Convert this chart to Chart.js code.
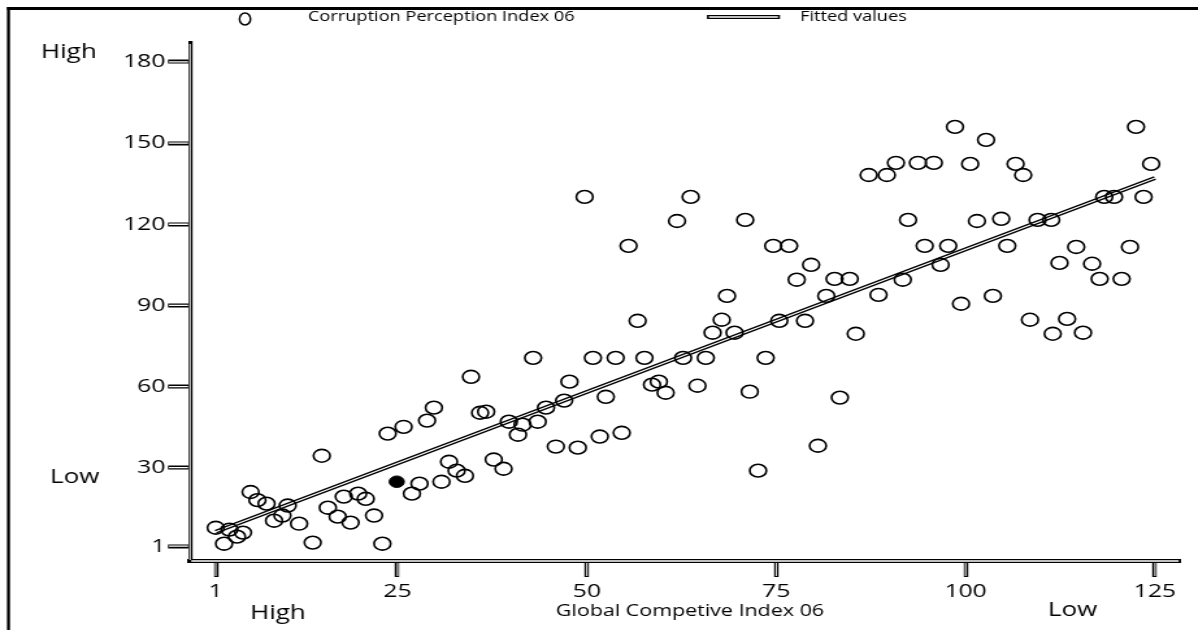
<!DOCTYPE html>
<html>
<head>
<meta charset="utf-8">
<script src="https://cdn.jsdelivr.net/npm/chart.js@4.4.1/dist/chart.umd.min.js"></script>
<style>
body { margin: 0; background: #fff; overflow: hidden; }
/* the original figure is stretched sideways, so draw narrow and widen it */
#wrap { position: absolute; left: 0; top: 0; width: 922px; height: 630px; transform: scaleX(1.2993); transform-origin: 0 0; }
</style>
</head>
<body>
<div id="wrap"><canvas id="myCanvas" width="922" height="630"></canvas></div>
<script>
// Global Competitiveness Index 06 rank (x) vs Corruption Perception Index 06 rank (y)
var gciRank = [1, 2.1, 2.8, 3.8, 4.6, 5.6, 6.5, 7.7, 8.7, 9.8, 10.5, 12, 13.8, 15, 15.8, 17.1, 17.9, 18.8, 19.8, 20.8,
  21.9, 23, 23.7, 25.8, 26.9, 27.9, 28.9, 29.8, 30.8, 31.8, 32.8, 33.9, 34.7, 35.9, 36.7, 37.7, 39, 39.7, 40.9, 41.5,
  42.9, 43.5, 44.6, 45.9, 47, 47.7, 48.8, 49.7, 50.8, 51.7, 52.5, 53.8, 54.6, 55.5, 56.7, 57.6, 58.6, 59.5, 60.4, 61.9,
  62.7, 63.7, 64.6, 65.7, 66.6, 67.8, 68.5, 69.5, 70.9, 71.5, 72.6, 73.6, 74.6, 75.4, 76.7, 77.7, 78.8, 79.6, 80.5, 81.6,
  82.7, 83.4, 84.7, 85.5, 87.2, 88.5, 89.6, 90.8, 91.7, 92.4, 93.7, 94.6, 95.8, 96.7, 97.7, 98.6, 99.4, 100.6, 101.5, 102.7,
  103.6, 104.7, 105.5, 106.6, 107.6, 108.5, 109.5, 111.3, 111.5, 112.4, 113.4, 114.6, 115.5, 116.7, 117.7, 118.3, 119.6, 120.6, 121.7, 122.5,
  123.5, 124.5];
var cpiRank = [7.8, 1.9, 7.1, 4.5, 6, 21, 18, 16.7, 10.4, 12.3, 16, 9.3, 2.3, 34.4, 15.2, 11.9, 19.3, 9.7, 20.4, 18.5,
  12.3, 1.9, 42.6, 45.1, 20.4, 24.1, 47.4, 52.2, 24.8, 32.2, 28.9, 27, 63.6, 50.3, 50.7, 33, 29.6, 47, 42.2, 45.9,
  70.6, 47, 52.2, 37.8, 54.8, 61.8, 37.4, 130.1, 70.6, 41.5, 56.2, 70.6, 42.9, 112, 84.3, 70.6, 60.7, 61.8, 57.7, 121.2,
  70.6, 130.1, 60.3, 70.6, 79.9, 84.7, 93.5, 79.9, 121.6, 58.1, 28.9, 70.6, 112, 84.3, 112, 99.5, 84.3, 105, 38.1, 93.5,
  99.8, 55.9, 99.8, 79.5, 138.2, 93.9, 138.2, 142.7, 99.5, 121.6, 142.7, 112, 142.7, 105, 112, 156, 90.6, 142.3, 121.2, 151.2,
  93.5, 122, 112, 142.3, 138.2, 84.7, 121.6, 121.6, 79.5, 105.7, 85, 111.6, 79.9, 105.4, 99.8, 130.1, 130.1, 99.8, 111.6, 156,
  130.1, 142.3];
// highlighted country (filled marker)
var markedX = [24.9];
var markedY = [24.8];
// fitted regression line end points
var fitX = [1, 125];
var fitY = [6.3, 137.1];
var xTicks = [1, 25, 50, 75, 100, 125];
var yTicks = [1, 30, 60, 90, 120, 150, 180];

var FONT = "'Open Sans', sans-serif";
var S = 1198 / 922;

// page x -> canvas x
function P(x) { return x / S; }

function toPoints(xs, ys) {
  return xs.map(function (x, i) { return { x: x, y: ys[i] }; });
}

var decorations = {
  id: "decorations",
  afterDraw: function (chart) {
    var ctx = chart.ctx;
    var area = chart.chartArea;
    var xs = chart.scales.x, ys = chart.scales.y;
    ctx.save();

    // white core on axes and ticks -> double lines
    ctx.strokeStyle = "#fff";
    ctx.lineWidth = 1;
    ctx.beginPath();
    ctx.moveTo(area.left, area.top + 1);
    ctx.lineTo(area.left, area.bottom - 1);
    xTicks.forEach(function (v) {
      var px = xs.getPixelForValue(v);
      ctx.moveTo(px, area.bottom + 2);
      ctx.lineTo(px, area.bottom + 15);
    });
    ctx.stroke();
    ctx.lineWidth = 1.3;
    ctx.beginPath();
    ctx.moveTo(area.left + 1, area.bottom);
    ctx.lineTo(area.right - 1, area.bottom);
    yTicks.forEach(function (v) {
      var py = ys.getPixelForValue(v);
      ctx.moveTo(area.left - P(21), py);
      ctx.lineTo(area.left - 1.5, py);
    });
    ctx.stroke();

    // legend
    ctx.fillStyle = "#000";
    ctx.strokeStyle = "#000";
    ctx.font = "500 14px " + FONT;
    ctx.textBaseline = "middle";
    ctx.textAlign = "left";
    ctx.lineWidth = 1.4;
    ctx.beginPath();
    ctx.ellipse(P(245), 19, P(5.5), 6, 0, 0, Math.PI * 2);
    ctx.stroke();
    ctx.fillText("Corruption Perception Index 06", P(308), 17);
    ctx.lineWidth = 4;
    ctx.beginPath();
    ctx.moveTo(P(707), 17);
    ctx.lineTo(P(780), 17);
    ctx.stroke();
    ctx.strokeStyle = "#fff";
    ctx.lineWidth = 1.3;
    ctx.beginPath();
    ctx.moveTo(P(709), 17);
    ctx.lineTo(P(778), 17);
    ctx.stroke();
    ctx.fillText("Fitted values", P(800), 17);

    // axis end labels and title
    ctx.font = "500 20px " + FONT;
    ctx.fillText("High", P(41), 52);
    ctx.fillText("Low", P(50), 477);
    ctx.fillText("High", P(250), 613);
    ctx.fillText("Low", P(1048), 610);
    ctx.font = "500 16.5px " + FONT;
    ctx.textAlign = "center";
    ctx.fillText("Global Competive Index 06", P(690), 611);

    // page frame (top and left)
    ctx.fillRect(P(7), 7, P(1198), 3);
    ctx.fillRect(P(7), 7, P(3), 623);
    ctx.restore();
  }
};

var myChart = new Chart(document.getElementById("myCanvas"), {
  type: "scatter",
  data: {
    datasets: [
      {
        label: "Fitted values",
        type: "line",
        data: toPoints(fitX, fitY),
        borderColor: "#000",
        borderWidth: 4,
        pointRadius: 0,
        order: 2
      },
      {
        label: "fit core",
        type: "line",
        data: toPoints(fitX, fitY),
        borderColor: "#fff",
        borderWidth: 1.3,
        pointRadius: 0,
        order: 1
      },
      {
        label: "Corruption Perception Index 06",
        data: toPoints(gciRank, cpiRank),
        pointStyle: "circle",
        pointRadius: 6.4,
        borderWidth: 1.6,
        borderColor: "#000",
        backgroundColor: "rgba(0,0,0,0)",
        order: 0
      },
      {
        label: "marked",
        data: toPoints(markedX, markedY),
        pointStyle: "circle",
        pointRadius: 5.8,
        borderWidth: 1,
        borderColor: "#000",
        backgroundColor: "#000",
        order: 0
      }
    ]
  },
  options: {
    responsive: false,
    animation: false,
    devicePixelRatio: 1,
    layout: { padding: { left: 0, right: P(18), top: 43, bottom: 0 } },
    plugins: { legend: { display: false }, tooltip: { enabled: false } },
    scales: {
      x: {
        type: "linear",
        min: -2.4,
        max: 128.3,
        afterFit: function (s) { s.height = 69; },
        afterBuildTicks: function (s) { s.ticks = xTicks.map(function (v) { return { value: v }; }); },
        grid: { drawOnChartArea: false, drawTicks: true, tickLength: 16, tickWidth: 3.4, tickColor: "#000" },
        border: { display: true, color: "#000", width: 4 },
        ticks: { color: "#000", padding: 3, font: { family: "'Open Sans'", size: 19, weight: "500" }, maxRotation: 0 }
      },
      y: {
        type: "linear",
        min: -4.5,
        max: 187,
        afterFit: function (s) { s.width = P(190); },
        afterBuildTicks: function (s) { s.ticks = yTicks.map(function (v) { return { value: v }; }); },
        grid: { drawOnChartArea: false, drawTicks: true, tickLength: P(22), tickWidth: 4, tickColor: "#000" },
        border: { display: true, color: "#000", width: 3.2 },
        ticks: { color: "#000", padding: 2, font: { family: "'Open Sans'", size: 19, weight: "500" } }
      }
    }
  },
  plugins: [decorations]
});
</script>
</body>
</html>
